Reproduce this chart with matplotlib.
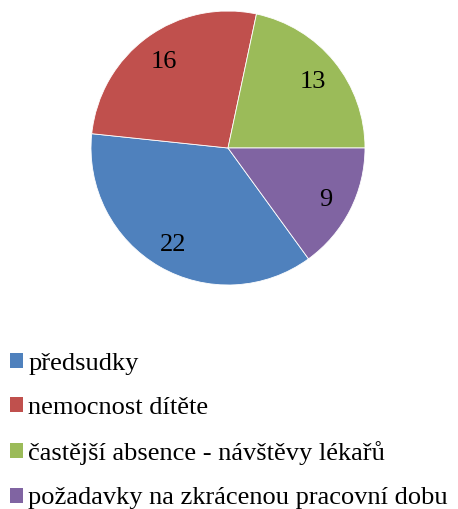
import matplotlib
matplotlib.use("Agg")
from matplotlib import pyplot as plt
from matplotlib.patches import Patch

labels = ["předsudky", "nemocnost dítěte",
          "častější absence - návštěvy lékařů",
          "požadavky na zkrácenou pracovní dobu"]
values = [22, 16, 13, 9]
colors = ["#4f81bd", "#c0504d", "#9bbb59", "#8064a2"]

plt.rcParams["font.family"] = ["Liberation Serif", "DejaVu Serif"]

fig = plt.figure(figsize=(4.58, 5.09), dpi=100)
W, H = 458, 509
cx, cy, r = 228, 148, 137
ax = fig.add_axes([(cx - r) / W, (H - cy - r) / H, 2 * r / W, 2 * r / H])

wedges, texts = ax.pie(values, colors=colors, startangle=-54, counterclock=False,
                       labels=[str(v) for v in values], labeldistance=0.8,
                       wedgeprops=dict(linewidth=0.6, edgecolor="white"),
                       textprops=dict(fontsize=19))
for t in texts:
    t.set_horizontalalignment("center")
    t.set_verticalalignment("center_baseline")
ax.set_xlim(-1.0, 1.0)
ax.set_ylim(-1.0, 1.0)
ax.set_aspect("equal")
ax.axis("off")

handles = [Patch(facecolor=c, edgecolor="none") for c in colors]
fig.legend(handles, labels, loc="upper left", bbox_to_anchor=(10 / W, 1 - 353 / H),
           frameon=False, fontsize=19, borderpad=0, borderaxespad=0,
           handlelength=0.5, handleheight=0.5, handletextpad=0.2,
           labelspacing=0.84)

fig.savefig("out.png", dpi=100)
